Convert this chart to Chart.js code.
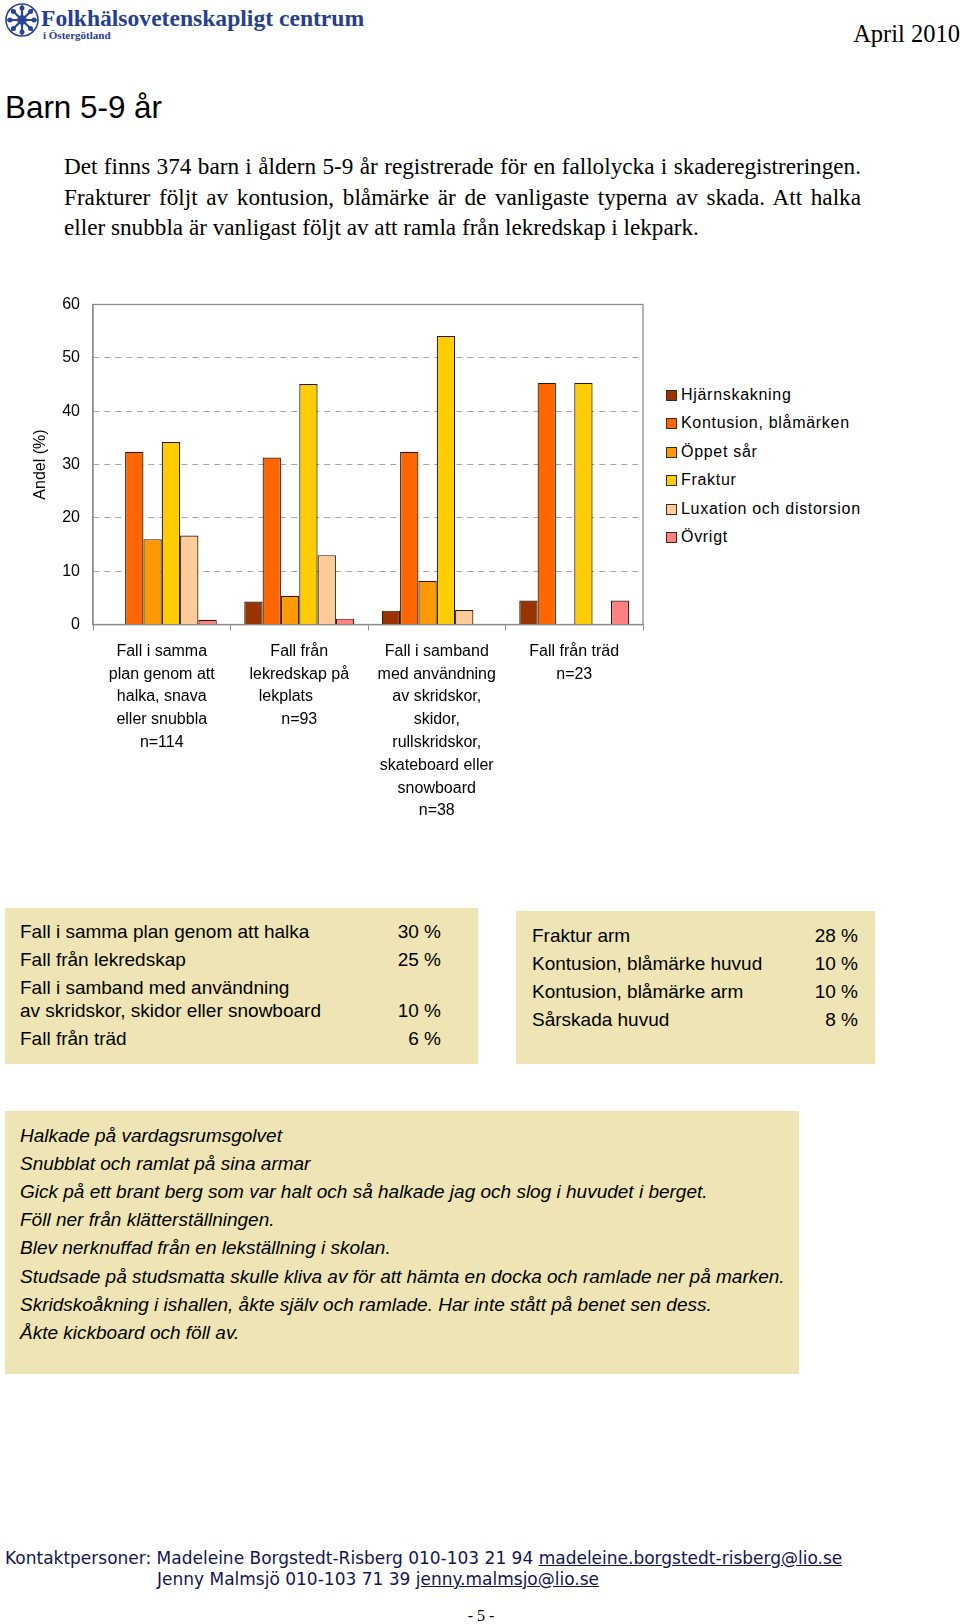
<!DOCTYPE html>
<html lang="sv">
<head>
<meta charset="utf-8">
<script src="https://cdn.jsdelivr.net/npm/chart.js@4.4.1/dist/chart.umd.min.js"></script>
<style>
  html, body { margin:0; padding:0; background:#fff; }
  body { width:960px; height:1624px; position:relative; overflow:hidden; font-family:"Liberation Sans", Arial, sans-serif; color:#000; }
  .abs { position:absolute; white-space:nowrap; }
  .serif { font-family:"Liberation Serif", "Times New Roman", serif; }
  .box { position:absolute; background:#EFE5B4; }
  .row { position:absolute; white-space:nowrap; font-size:19px; line-height:24px; }
  .legend-item { position:absolute; left:666px; height:20px; line-height:20px; font-size:16px; letter-spacing:0.7px; white-space:nowrap; }
  .legend-item span.sw { position:absolute; left:0; top:5px; width:9px; height:9px; border:1px solid #3a2a1a; }
  .legend-item span.tx { position:absolute; left:15px; top:0; }
  .foot { font-family:"DejaVu Sans", sans-serif; font-size:17px; color:#141450; }
  .foot a { color:#141450; text-decoration:underline; }
  .para { position:absolute; left:64px; width:797px; font-size:23.2px; line-height:30px; white-space:nowrap; }
  .just { text-align:justify; text-align-last:justify; white-space:normal; }
</style>
</head>
<body>
<script>
// ---- data ----
const categories = [
  ["Fall i samma", "plan genom att", "halka, snava", "eller snubbla", "n=114"],
  ["Fall från", "lekredskap på", "lekplats      ", "n=93"],
  ["Fall i samband", "med användning", "av skridskor,", "skidor,", "rullskridskor,", "skateboard eller", "snowboard", "n=38"],
  ["Fall från träd", "n=23"]
];
const seriesNames = ["Hjärnskakning", "Kontusion, blåmärken", "Öppet sår", "Fraktur", "Luxation och distorsion", "Övrigt"];
const hjarnskakning = [0, 4.3, 2.6, 4.5];
const kontusion     = [32.4, 31.3, 32.4, 45.3];
const oppetSar      = [16.0, 5.4, 8.2, 0];
const fraktur       = [34.2, 45.1, 54.1, 45.3];
const luxation      = [16.7, 13.0, 2.7, 0];
const ovrigt        = [0.9, 1.1, 0, 4.5];
const seriesColors  = ["#993300", "#FF6600", "#FF9900", "#FFCC00", "#FFCC99", "#FF8080"];
const yTickValues   = [0, 10, 20, 30, 40, 50, 60];
const axisTitle     = "Andel (%)";

const leftTable = [
  ["Fall i samma plan genom att halka", "30 %"],
  ["Fall från lekredskap", "25 %"],
  ["Fall i samband med användning\nav skridskor, skidor eller snowboard", "10 %"],
  ["Fall från träd", "6 %"]
];
const rightTable = [
  ["Fraktur arm", "28 %"],
  ["Kontusion, blåmärke huvud", "10 %"],
  ["Kontusion, blåmärke arm", "10 %"],
  ["Sårskada huvud", "8 %"]
];
const quotes = [
  "Halkade på vardagsrumsgolvet",
  "Snubblat och ramlat på sina armar",
  "Gick på ett brant berg som var halt och så halkade jag och slog i huvudet i berget.",
  "Föll ner från klätterställningen.",
  "Blev nerknuffad från en lekställning i skolan.",
  "Studsade på studsmatta skulle kliva av för att hämta en docka och ramlade ner på marken.",
  "Skridskoåkning i ishallen, åkte själv och ramlade. Har inte stått på benet sen dess.",
  "Åkte kickboard och föll av."
];
</script>

<!-- Header -->
<svg class="abs" style="left:4px;top:2px" width="36" height="36" viewBox="0 0 36 36">
  <g fill="none" stroke="#2a4496" stroke-width="1.6">
    <circle cx="18" cy="18" r="16"/>
    <circle cx="18" cy="18" r="4"/>
  </g>
  <g stroke="#2a4496" stroke-width="2.2" stroke-linecap="round">
    <line x1="18" y1="4" x2="18" y2="32"/>
    <line x1="4" y1="18" x2="32" y2="18"/>
    <line x1="8" y1="8" x2="28" y2="28"/>
    <line x1="28" y1="8" x2="8" y2="28"/>
  </g>
  <g fill="#2a4496">
    <circle cx="18" cy="6" r="2.5"/><circle cx="18" cy="30" r="2.5"/>
    <circle cx="6" cy="18" r="2.5"/><circle cx="30" cy="18" r="2.5"/>
    <circle cx="9.5" cy="9.5" r="2.5"/><circle cx="26.5" cy="26.5" r="2.5"/>
    <circle cx="26.5" cy="9.5" r="2.5"/><circle cx="9.5" cy="26.5" r="2.5"/>
  </g>
</svg>
<div class="abs serif" style="left:41px;top:3px;font-size:23.6px;line-height:30px;font-weight:bold;color:#25408f;">Folkhälsovetenskapligt centrum</div>
<div class="abs serif" style="left:43px;top:28px;font-size:11px;line-height:14px;font-weight:bold;color:#25408f;">i Östergötland</div>
<div class="abs serif" style="right:0px;top:18px;font-size:24.5px;line-height:32px;">April 2010</div>

<div class="abs" style="left:5px;top:90px;font-size:31.4px;line-height:36px;">Barn 5-9 år</div>

<div class="para serif just" style="top:151px;">Det finns 374 barn i åldern 5-9 år registrerade för en fallolycka i skaderegistreringen.</div>
<div class="para serif just" style="top:182px;">Frakturer följt av kontusion, blåmärke är de vanligaste typerna av skada. Att halka</div>
<div class="para serif" style="top:212px;">eller snubbla är vanligast följt av att ramla från lekredskap i lekpark.</div>

<!-- Chart -->
<canvas id="c" width="660" height="540" style="position:absolute;left:0;top:280px;"></canvas>
<div id="legend"></div>

<!-- Tables -->
<div class="box" style="left:5px;top:908px;width:473px;height:156px;" id="t1"></div>
<div class="box" style="left:516px;top:911px;width:359px;height:153px;" id="t2"></div>
<div class="box" style="left:5px;top:1111px;width:794px;height:263px;" id="t3"></div>

<!-- Footer -->
<div class="abs foot" style="left:5px;top:1548px;line-height:21px;">Kontaktpersoner: Madeleine Borgstedt-Risberg 010-103 21 94 <a>madeleine.borgstedt-risberg@lio.se</a></div>
<div class="abs foot" style="left:157px;top:1569px;line-height:21px;">Jenny Malmsjö 010-103 71 39 <a>jenny.malmsjo@lio.se</a></div>
<div class="abs serif" style="left:0;width:962px;text-align:center;top:1606px;font-size:16px;line-height:20px;">- 5 -</div>

<script>
// Legend (HTML, from series arrays)
const legendRowsY = [394.5, 423, 451.5, 480, 508.5, 536.5];
const legendEl = document.getElementById('legend');
seriesNames.forEach((name, i) => {
  const d = document.createElement('div');
  d.className = 'legend-item';
  d.style.top = (legendRowsY[i] - 10) + 'px';
  d.innerHTML = '<span class="sw" style="background:' + seriesColors[i] + '"></span><span class="tx"></span>';
  d.querySelector('.tx').textContent = name;
  legendEl.appendChild(d);
});

// Tables
function fillTable(el, rows, rowTops, textLeft, pctRight) {
  rows.forEach((r, i) => {
    const lines = r[0].split('\n');
    lines.forEach((ln, j) => {
      const t = document.createElement('div');
      t.className = 'row';
      t.style.left = textLeft + 'px';
      t.style.top = (rowTops[i] + j * 23) + 'px';
      t.textContent = ln;
      el.appendChild(t);
    });
    const p = document.createElement('div');
    p.className = 'row';
    p.style.right = pctRight + 'px';
    p.style.top = (rowTops[i] + (lines.length - 1) * 23) + 'px';
    p.textContent = r[1];
    el.appendChild(p);
  });
}
fillTable(document.getElementById('t1'), leftTable, [932-908-12, 960-908-12, 988-908-12, 1039-908-12], 15, 478-441);
fillTable(document.getElementById('t2'), rightTable, [936-911-12, 964-911-12, 992-911-12, 1020-911-12], 16, 875-858);
const t3 = document.getElementById('t3');
quotes.forEach((q, i) => {
  const t = document.createElement('div');
  t.className = 'row';
  t.style.left = '15px';
  t.style.fontStyle = 'italic';
  t.style.top = (1136 - 1111 - 12 + i * 28.1) + 'px';
  t.textContent = q;
  t3.appendChild(t);
});

// Chart
const frame = {
  id: 'frame',
  beforeDatasetsDraw(chart) {
    const a = chart.chartArea, ctx = chart.ctx;
    ctx.save();
    ctx.strokeStyle = '#8c8c8c';
    ctx.lineWidth = 1.3;
    ctx.strokeRect(a.left, a.top, a.right - a.left, a.bottom - a.top);
    ctx.restore();
  }
};

const seriesData = [hjarnskakning, kontusion, oppetSar, fraktur, luxation, ovrigt];
new Chart(document.getElementById('c'), {
  type: 'bar',
  data: {
    labels: categories,
    datasets: seriesNames.map((n, i) => ({
      label: n,
      data: seriesData[i],
      backgroundColor: seriesColors[i],
      borderColor: '#2b1a0a',
      borderWidth: 1.2,
      categoryPercentage: 0.8,
      barPercentage: 1.0
    }))
  },
  options: {
    responsive: false,
    animation: false,
    devicePixelRatio: 1,
    layout: { padding: { top: 24.5, right: 17, bottom: 0, left: 0 } },
    plugins: { legend: { display: false }, tooltip: { enabled: false } },
    scales: {
      x: {
        grid: { offset: true, drawOnChartArea: false, drawTicks: true, tickLength: 6, color: '#8c8c8c', tickColor: '#8c8c8c' },
        border: { color: '#8c8c8c', width: 1.3 },
        ticks: {
          autoSkip: false, maxRotation: 0, minRotation: 0, padding: 9.5,
          color: '#000',
          font: { family: '"Liberation Sans", Arial, sans-serif', size: 16, lineHeight: '22.8px' }
        },
        afterFit: s => { s.height = 195.5; }
      },
      y: {
        min: 0, max: 60,
        afterBuildTicks: s => { s.ticks = yTickValues.map(v => ({ value: v })); },
        grid: { drawTicks: false, color: '#a6a6a6', lineWidth: 1 },
        border: { display: true, color: '#8c8c8c', width: 1.3, dash: [6, 5] },
        ticks: {
          padding: 13, color: '#000',
          font: { family: '"Liberation Sans", Arial, sans-serif', size: 16 }
        },
        title: {
          display: true, text: axisTitle, color: '#000',
          font: { family: '"Liberation Sans", Arial, sans-serif', size: 16 },
          padding: { top: 31.4, bottom: 0 }
        },
        afterFit: s => { s.width = 93; }
      }
    }
  },
  plugins: [frame]
});
</script>
</body>
</html>
